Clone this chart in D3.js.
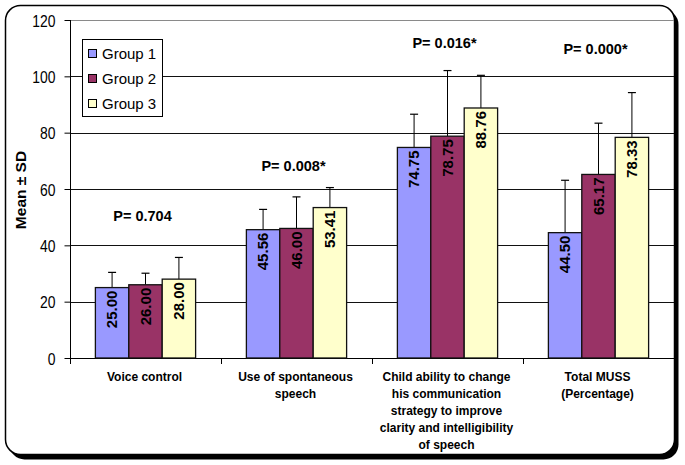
<!DOCTYPE html>
<html>
<head>
<meta charset="utf-8">
<script src="https://cdn.jsdelivr.net/npm/d3@7"></script>
<style>
  html, body { margin: 0; padding: 0; background: #fff; }
  svg { display: block; font-family: "Liberation Sans", Arial, sans-serif; }
</style>
</head>
<body>
<svg id="chart" width="685" height="465"></svg>
<script>
// ---- data ----
const categories = [
  ["Voice control"],
  ["Use of spontaneous", "speech"],
  ["Child ability to change", "his communication", "strategy to improve", "clarity and intelligibility", "of speech"],
  ["Total MUSS", "(Percentage)"]
];
const groups = ["Group 1", "Group 2", "Group 3"];
const group1 = [25.00, 45.56, 74.75, 44.50];
const group2 = [26.00, 46.00, 78.75, 65.17];
const group3 = [28.00, 53.41, 88.76, 78.33];
const sd1 = [5.4, 7.2, 11.8, 18.6];
const sd2 = [4.1, 11.2, 23.3, 18.2];
const sd3 = [7.7, 7.1, 11.6, 15.9];
const pLabels = ["P= 0.704", "P= 0.008*", "P= 0.016*", "P= 0.000*"];
const pLabelY = [48.7, 66.5, 110, 108];
const yTicks = [0, 20, 40, 60, 80, 100, 120];
const colors = ["#9999FF", "#993366", "#FFFFCC"];

const means = [group1, group2, group3];
const sds = [sd1, sd2, sd3];

// ---- layout ----
const svg = d3.select("#chart");
const plotLeft = 70, plotRight = 674, plotTop = 20, plotBottom = 358;

// frame with shadow
svg.append("rect").attr("x", 9.5).attr("y", 9.5).attr("width", 669).attr("height", 450)
  .attr("rx", 15).attr("fill", "#000");
svg.append("rect").attr("x", 5.5).attr("y", 5.5).attr("width", 669).attr("height", 449)
  .attr("rx", 15).attr("fill", "#fff").attr("stroke", "#000").attr("stroke-width", 1.5);

const x = d3.scaleBand().domain(d3.range(categories.length)).range([plotLeft, plotRight]).padding(0);
const xi = d3.scaleBand().domain(d3.range(groups.length)).range([0, x.bandwidth()])
  .paddingInner(0).paddingOuter(0.76);
const y = d3.scaleLinear().domain([0, 120]).range([plotBottom, plotTop]);

// gridlines
svg.append("g").selectAll("line").data(yTicks.filter(d => d > 0)).join("line")
  .attr("x1", plotLeft).attr("x2", plotRight)
  .attr("y1", d => Math.round(y(d)) + 0.5).attr("y2", d => Math.round(y(d)) + 0.5)
  .attr("stroke", d => d === 120 ? "#8a8a8a" : "#111").attr("stroke-width", 1.1);

// y axis
const sx = 0.82;
const yAxis = svg.append("g").attr("transform", `translate(${plotLeft + 0.5},0)`)
  .call(d3.axisLeft(y).tickValues(yTicks).tickSize(6).tickSizeOuter(0));
yAxis.select(".domain").attr("stroke", "#000").attr("d", `M0,${plotTop}V${plotBottom + 0.5}`);
yAxis.selectAll(".tick line").attr("stroke", "#000");
yAxis.selectAll(".tick text")
  .attr("font-size", 17).attr("fill", "#000")
  .attr("font-family", "'Liberation Sans', Arial, sans-serif")
  .attr("x", -15 / sx).attr("dy", "0.36em")
  .attr("transform", `scale(${sx},1)`);

// x axis line and ticks at band boundaries
svg.append("line").attr("x1", plotLeft).attr("x2", plotRight)
  .attr("y1", plotBottom + 0.5).attr("y2", plotBottom + 0.5).attr("stroke", "#000");
const bounds = d3.range(categories.length + 1).map(i => i < categories.length ? x(i) : x(i - 1) + x.bandwidth());
svg.append("g").selectAll("line").data(bounds).join("line")
  .attr("x1", d => Math.round(d) + 0.5).attr("x2", d => Math.round(d) + 0.5)
  .attr("y1", plotBottom).attr("y2", plotBottom + 6).attr("stroke", "#000");

// bars
const barData = [];
categories.forEach((c, ci) => {
  groups.forEach((g, gi) => {
    barData.push({ ci, gi, v: means[gi][ci], sd: sds[gi][ci] });
  });
});

const bars = svg.append("g");
bars.selectAll("line.err").data(barData).join("line").attr("class", "err")
  .attr("x1", d => x(d.ci) + xi(d.gi) + xi.bandwidth() / 2)
  .attr("x2", d => x(d.ci) + xi(d.gi) + xi.bandwidth() / 2)
  .attr("y1", d => y(d.v)).attr("y2", d => y(d.v + d.sd))
  .attr("stroke", "#000").attr("stroke-width", 1);
bars.selectAll("line.cap").data(barData).join("line").attr("class", "cap")
  .attr("x1", d => x(d.ci) + xi(d.gi) + xi.bandwidth() / 2 - 4)
  .attr("x2", d => x(d.ci) + xi(d.gi) + xi.bandwidth() / 2 + 4)
  .attr("y1", d => y(d.v + d.sd)).attr("y2", d => y(d.v + d.sd))
  .attr("stroke", "#000").attr("stroke-width", 1.2);

bars.selectAll("rect").data(barData).join("rect")
  .attr("x", d => x(d.ci) + xi(d.gi))
  .attr("width", xi.bandwidth())
  .attr("y", d => y(d.v))
  .attr("height", d => y(0) - y(d.v))
  .attr("fill", d => colors[d.gi])
  .attr("stroke", "#111").attr("stroke-width", 1.3);

// value labels (rotated)
bars.selectAll("text").data(barData).join("text")
  .attr("transform", d => `translate(${x(d.ci) + xi(d.gi) + xi.bandwidth() / 2},${y(d.v) + 3}) rotate(-90)`)
  .attr("text-anchor", "end").attr("dy", "0.36em")
  .attr("font-size", 15).attr("font-weight", "bold").attr("fill", "#000")
  .text(d => d.v.toFixed(2));

// p-value labels
svg.append("g").selectAll("text").data(pLabels).join("text")
  .attr("x", (d, i) => x(i) + x.bandwidth() / 2 - 3)
  .attr("y", (d, i) => y(pLabelY[i]))
  .attr("text-anchor", "middle").attr("font-size", 14.5).attr("font-weight", "bold")
  .text(d => d);

// category labels
const catG = svg.append("g").selectAll("text").data(categories).join("text")
  .attr("text-anchor", "middle").attr("font-size", 12).attr("font-weight", "bold")
  .attr("x", (d, i) => x(i) + x.bandwidth() / 2 - 1)
  .attr("y", 381);
catG.selectAll("tspan").data(d => d).join("tspan")
  .attr("x", function () { return d3.select(this.parentNode).attr("x"); })
  .attr("dy", (d, i) => i === 0 ? 0 : 17)
  .text(d => d);

// y axis title
svg.append("text")
  .attr("transform", "translate(26,190) rotate(-90)")
  .attr("text-anchor", "middle").attr("font-size", 15.5).attr("font-weight", "bold")
  .text("Mean ± SD");

// legend
const lg = svg.append("g");
lg.append("rect").attr("x", 82.5).attr("y", 39.5).attr("width", 80).attr("height", 77)
  .attr("fill", "#fff").attr("stroke", "#000").attr("stroke-width", 1);
const rowY = d3.scalePoint().domain(d3.range(groups.length)).range([54, 104]);
const lrow = lg.selectAll("g.row").data(groups).join("g").attr("class", "row")
  .attr("transform", (d, i) => `translate(0,${rowY(i)})`);
lrow.append("rect").attr("x", 88.5).attr("y", -4.5).attr("width", 8).attr("height", 8)
  .attr("fill", (d, i) => colors[i]).attr("stroke", "#000").attr("stroke-width", 1);
lrow.append("text").attr("x", 102).attr("dy", "0.36em").attr("font-size", 15)
  .text(d => d);
</script>
</body>
</html>
